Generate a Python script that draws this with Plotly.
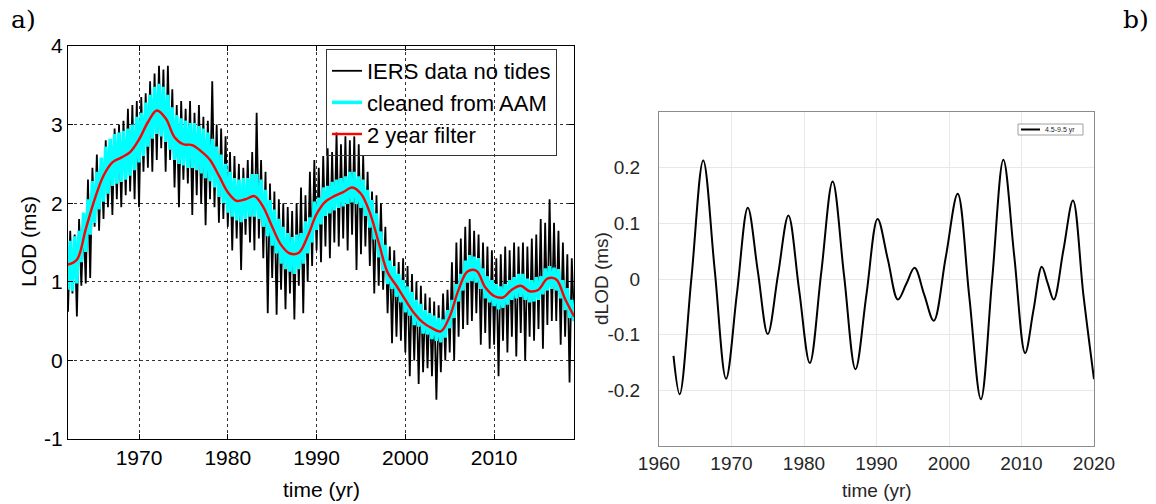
import plotly.graph_objects as go

# ---------------- data ----------------
# Panel a): quarterly samples starting 1962.0
iers_lod = [
    0.62, 1.65, 0.85, 1.60,   # 1962
    0.56, 1.80, 0.95, 1.75,   # 1963
    0.98, 2.30, 1.05, 2.45,   # 1964
    1.70, 2.62, 1.65, 2.55,   # 1965
    1.80, 2.80, 1.95, 2.75,   # 1966
    1.85, 2.95, 2.05, 3.00,   # 1967
    1.95, 3.05, 2.10, 3.20,   # 1968
    2.15, 3.25, 2.05, 3.30,   # 1969
    1.95, 3.35, 2.40, 3.40,   # 1970
    2.45, 3.55, 2.40, 3.65,   # 1971
    2.55, 3.75, 2.70, 3.70,   # 1972
    2.40, 3.75, 2.55, 3.45,   # 1973
    2.20, 3.25, 1.95, 3.30,   # 1974
    2.30, 3.20, 2.25, 3.30,   # 1975
    1.85, 3.15, 2.10, 3.25,   # 1976
    2.00, 3.10, 1.72, 3.05,   # 1977
    2.05, 3.55, 1.95, 3.00,   # 1978
    1.75, 2.95, 1.80, 2.85,   # 1979
    1.70, 2.65, 1.40, 2.60,   # 1980
    1.55, 2.50, 1.15, 2.45,   # 1981
    1.60, 2.55, 1.50, 2.65,   # 1982
    1.40, 3.15, 1.55, 2.55,   # 1983
    1.30, 2.40, 0.60, 2.25,   # 1984
    1.05, 2.15, 0.58, 2.05,   # 1985
    0.90, 2.00, 0.65, 1.95,   # 1986
    0.85, 1.90, 0.52, 2.00,   # 1987
    0.95, 2.20, 0.60, 2.10,   # 1988
    1.00, 2.40, 1.20, 2.55,   # 1989
    1.40, 2.45, 1.25, 2.60,   # 1990
    1.45, 2.70, 1.30, 2.65,   # 1991
    1.50, 2.90, 1.45, 2.75,   # 1992
    1.55, 2.85, 1.40, 2.80,   # 1993
    1.60, 2.85, 1.15, 2.75,   # 1994
    1.35, 2.60, 1.45, 2.40,   # 1995
    1.20, 2.15, 0.85, 2.10,   # 1996
    0.95, 2.00, 0.90, 1.70,   # 1997
    0.60, 1.45, 0.22, 1.40,   # 1998
    0.30, 1.25, 0.25, 1.30,   # 1999
    0.10, 1.20, -0.20, 1.10,  # 2000
    0.00, 1.00, -0.30, 0.95,  # 2001
    -0.15, 0.85, -0.10, 0.80, # 2002
    -0.20, 0.75, -0.50, 0.70, # 2003
    -0.15, 0.85, 0.00, 0.90,  # 2004
    0.10, 1.25, 0.00, 1.50,   # 2005
    0.30, 1.55, 0.40, 1.70,   # 2006
    0.45, 1.80, 0.50, 1.65,   # 2007
    0.60, 1.60, 0.20, 1.50,   # 2008
    0.35, 1.45, 0.15, 1.40,   # 2009
    0.20, 1.30, -0.20, 1.35,  # 2010
    0.25, 1.45, 0.10, 1.40,   # 2011
    0.30, 1.50, 0.05, 1.45,   # 2012
    0.35, 1.50, 0.00, 1.45,   # 2013
    0.30, 1.55, 0.25, 1.60,   # 2014
    0.40, 1.80, 0.15, 1.75,   # 2015
    0.45, 2.05, 0.50, 1.75,   # 2016
    0.50, 1.65, 0.20, 1.50,   # 2017
    0.30, 1.35, -0.28, 1.30,  # 2018
    0.50,                     # 2019
]

aam_lod = [
    0.90, 1.52, 0.88, 1.58,   # 1962
    0.98, 1.65, 1.25, 1.88,   # 1963
    1.38, 2.05, 1.60, 2.28,   # 1964
    1.75, 2.40, 1.92, 2.58,   # 1965
    2.02, 2.72, 2.12, 2.82,   # 1966
    2.22, 2.88, 2.25, 2.90,   # 1967
    2.27, 2.92, 2.30, 2.95,   # 1968
    2.35, 3.00, 2.42, 3.10,   # 1969
    2.52, 3.15, 2.60, 3.28,   # 1970
    2.72, 3.38, 2.82, 3.48,   # 1971
    2.88, 3.52, 2.85, 3.48,   # 1972
    2.78, 3.38, 2.68, 3.22,   # 1973
    2.55, 3.12, 2.50, 3.08,   # 1974
    2.48, 3.05, 2.45, 3.02,   # 1975
    2.45, 3.02, 2.42, 2.98,   # 1976
    2.38, 2.95, 2.32, 2.90,   # 1977
    2.28, 2.82, 2.20, 2.72,   # 1978
    2.08, 2.62, 2.00, 2.50,   # 1979
    1.88, 2.40, 1.83, 2.32,   # 1980
    1.78, 2.30, 1.76, 2.32,   # 1981
    1.80, 2.32, 1.83, 2.37,   # 1982
    1.83, 2.37, 1.80, 2.30,   # 1983
    1.70, 2.17, 1.58, 2.04,   # 1984
    1.46, 1.92, 1.36, 1.80,   # 1985
    1.23, 1.70, 1.16, 1.62,   # 1986
    1.13, 1.57, 1.10, 1.60,   # 1987
    1.16, 1.62, 1.23, 1.77,   # 1988
    1.36, 1.82, 1.50, 2.02,   # 1989
    1.66, 2.07, 1.73, 2.20,   # 1990
    1.84, 2.22, 1.87, 2.27,   # 1991
    1.91, 2.30, 1.94, 2.32,   # 1992
    1.96, 2.34, 1.99, 2.40,   # 1993
    2.01, 2.40, 1.99, 2.34,   # 1994
    1.94, 2.30, 1.84, 2.17,   # 1995
    1.69, 2.04, 1.54, 1.87,   # 1996
    1.31, 1.64, 1.14, 1.47,   # 1997
    0.97, 1.27, 0.91, 1.20,   # 1998
    0.81, 1.10, 0.74, 1.02,   # 1999
    0.61, 0.94, 0.57, 0.87,   # 2000
    0.45, 0.77, 0.43, 0.72,   # 2001
    0.34, 0.64, 0.33, 0.60,   # 2002
    0.27, 0.57, 0.25, 0.54,   # 2003
    0.23, 0.52, 0.29, 0.64,   # 2004
    0.41, 0.77, 0.54, 0.97,   # 2005
    0.75, 1.10, 0.89, 1.27,   # 2006
    0.99, 1.34, 1.01, 1.32,   # 2007
    0.99, 1.30, 0.91, 1.17,   # 2008
    0.79, 1.07, 0.74, 1.02,   # 2009
    0.69, 0.97, 0.65, 0.94,   # 2010
    0.67, 0.97, 0.71, 1.02,   # 2011
    0.77, 1.06, 0.79, 1.10,   # 2012
    0.81, 1.10, 0.77, 1.04,   # 2013
    0.74, 1.02, 0.75, 1.06,   # 2014
    0.77, 1.07, 0.84, 1.17,   # 2015
    0.89, 1.20, 0.91, 1.18,   # 2016
    0.89, 1.16, 0.79, 1.02,   # 2017
    0.64, 0.92, 0.54, 0.77,   # 2018
    0.50,                     # 2019
]

filt_year = list(range(1962, 2020))
filt_lod = [
    1.22, 1.28, 1.67, 2.05, 2.35, 2.52, 2.58, 2.65, 2.81, 3.03,   # 1962-1971
    3.18, 3.08, 2.84, 2.75, 2.74, 2.66, 2.55, 2.35, 2.14, 2.03,   # 1972-1981
    2.05, 2.09, 1.95, 1.70, 1.47, 1.36, 1.37, 1.58, 1.86, 2.02,   # 1982-1991
    2.09, 2.14, 2.20, 2.12, 1.88, 1.50, 1.12, 0.95, 0.77, 0.60,   # 1992-2001
    0.48, 0.41, 0.37, 0.56, 0.90, 1.13, 1.14, 0.93, 0.82, 0.80,   # 2002-2011
    0.90, 0.95, 0.88, 0.90, 1.04, 1.03, 0.78, 0.56,               # 2012-2019
]

# Panel b): 4.5-9.5 yr band of dLOD
dlod_year = [1962.0, 1962.85, 1964.48, 1966.1, 1967.68, 1969.25, 1970.75, 1972.25,
             1973.62, 1975.0, 1976.42, 1977.85, 1979.32, 1980.8, 1982.38, 1983.95,
             1985.52, 1987.1, 1988.62, 1990.15, 1991.55, 1992.95, 1994.1, 1995.25,
             1996.58, 1997.9, 1999.55, 2001.2, 2002.8, 2004.4, 2005.95, 2007.5,
             2009.0, 2010.5, 2011.65, 2012.8, 2013.62, 2014.45, 2015.78, 2017.1,
             2018.55, 2020.0]
dlod_val = [-0.138, -0.207, 0.003, 0.213, 0.017, -0.179, -0.026, 0.128,
            0.015, -0.099, 0.008, 0.114, -0.019, -0.151, 0.012, 0.175,
            0.007, -0.162, -0.027, 0.108, 0.036, -0.037, -0.009, 0.020,
            -0.028, -0.075, 0.039, 0.153, -0.032, -0.216, -0.001, 0.214,
            0.041, -0.133, -0.056, 0.022, -0.008, -0.037, 0.052, 0.141,
            -0.030, -0.180]

a_xticks = [1970, 1980, 1990, 2000, 2010]
a_yticks = [-1, 0, 1, 2, 3, 4]
b_xticks = [1960, 1970, 1980, 1990, 2000, 2010, 2020]
b_yticks = [-0.2, -0.1, 0, 0.1, 0.2]

t_quarter = [1962 + 0.25 * i for i in range(len(iers_lod))]

# ---------------- figure ----------------
W, H = 1156, 504
SANS = "Liberation Sans"

fig = go.Figure()
fig.add_trace(go.Scatter(x=t_quarter, y=iers_lod, mode="lines", name="IERS data no tides",
                         line=dict(color="black", width=1.8), xaxis="x", yaxis="y", legend="legend"))
fig.add_trace(go.Scatter(x=t_quarter, y=aam_lod, mode="lines", name="cleaned from AAM",
                         line=dict(color="#00ffff", width=3.5), xaxis="x", yaxis="y", legend="legend"))
fig.add_trace(go.Scatter(x=filt_year, y=filt_lod, mode="lines", name="2 year filter",
                         line=dict(color="#ff0000", width=2.4, shape="spline"),
                         xaxis="x", yaxis="y", legend="legend"))
fig.add_trace(go.Scatter(x=dlod_year, y=dlod_val, mode="lines", name="4.5-9.5 yr",
                         line=dict(color="black", width=2, shape="spline"),
                         xaxis="x2", yaxis="y2", showlegend=False))

def fx(px):
    return px / W

def fy(py):
    return 1 - py / H

left_axis = dict(showline=True, linecolor="black", linewidth=1, mirror="ticks",
                 ticks="inside", ticklen=5, tickcolor="black", showgrid=True,
                 gridcolor="#333333", griddash="dot", gridwidth=1, zeroline=False,
                 automargin=False,
                 tickfont=dict(family=SANS, size=21, color="black"))
right_axis = dict(showline=True, linecolor="#8c8c8c", linewidth=1, mirror=True,
                  ticks="", showgrid=True, gridcolor="#e8e8e8", gridwidth=1, zeroline=False,
                  automargin=False,
                  tickfont=dict(family=SANS, size=19, color="#262626"))

# hand-drawn legend box for panel b) (matches the tiny MATLAB legend)
b_leg = dict(x0=1018, x1=1083, y0=124, y1=135)

fig.update_layout(
    width=W, height=H, margin=dict(l=0, r=0, t=0, b=0),
    paper_bgcolor="white", plot_bgcolor="white",
    xaxis=dict(domain=[fx(68), fx(574)], anchor="y", range=[1962, 2019],
               tickvals=a_xticks, ticktext=[str(v) for v in a_xticks],
               ticklabelstandoff=0, **left_axis),
    yaxis=dict(domain=[fy(439), fy(46)], anchor="x", range=[-1, 4],
               tickvals=a_yticks, ticktext=[str(v) for v in a_yticks],
               ticklabelstandoff=0, **left_axis),
    xaxis2=dict(domain=[fx(659), fx(1094)], anchor="y2", range=[1960, 2020],
                tickvals=b_xticks, ticktext=[str(v) for v in b_xticks],
                ticklabelstandoff=0, **right_axis),
    yaxis2=dict(domain=[fy(446), fy(112)], anchor="x2", range=[-0.3, 0.3],
                tickvals=b_yticks, ticktext=["-0.2", "-0.1", "0", "0.1", "0.2"],
                ticklabelstandoff=14, **right_axis),
    legend=dict(x=fx(326), y=fy(49), xanchor="left", yanchor="top",
                bgcolor="rgba(0,0,0,0)", bordercolor="#333333", borderwidth=1,
                font=dict(family=SANS, size=22, color="black"),
                itemwidth=30, tracegroupgap=0,
                entrywidth=200, entrywidthmode="pixels"),
    showlegend=True,
    shapes=[
        dict(type="rect", xref="paper", yref="paper",
             x0=fx(b_leg["x0"]), x1=fx(b_leg["x1"]), y0=fy(b_leg["y1"]), y1=fy(b_leg["y0"]),
             line=dict(color="#a0a0a0", width=1), fillcolor="white"),
        dict(type="line", xref="paper", yref="paper",
             x0=fx(1021), x1=fx(1040), y0=fy(129.5), y1=fy(129.5),
             line=dict(color="black", width=2)),
    ],
    annotations=[
        dict(text="4.5-9.5 yr", x=fx(1043), y=fy(129.5), xref="paper", yref="paper",
             xanchor="left", yanchor="middle", showarrow=False,
             font=dict(family=SANS, size=7, color="#262626")),
        dict(text="a)", x=fx(9), y=fy(20), xref="paper", yref="paper", xanchor="left",
             yanchor="middle", showarrow=False,
             font=dict(family="DejaVu Serif", size=25, color="black")),
        dict(text="b)", x=fx(1151), y=fy(20), xref="paper", yref="paper", xanchor="right",
             yanchor="middle", showarrow=False,
             font=dict(family="DejaVu Serif", size=25, color="black")),
        dict(text="LOD (ms)", x=fx(28), y=fy(242), xref="paper", yref="paper",
             xanchor="center", yanchor="middle", textangle=-90, showarrow=False,
             font=dict(family=SANS, size=21, color="black")),
        dict(text="time (yr)", x=fx(321), y=fy(489), xref="paper", yref="paper",
             xanchor="center", yanchor="middle",
             showarrow=False, font=dict(family=SANS, size=21, color="black")),
        dict(text="dLOD (ms)", x=fx(601), y=fy(279), xref="paper", yref="paper",
             xanchor="center", yanchor="middle", textangle=-90, showarrow=False,
             font=dict(family=SANS, size=19, color="#262626")),
        dict(text="time (yr)", x=fx(877), y=fy(490), xref="paper", yref="paper",
             xanchor="center", yanchor="middle",
             showarrow=False, font=dict(family=SANS, size=19, color="#262626")),
    ],
)

fig.write_html("out.html")
